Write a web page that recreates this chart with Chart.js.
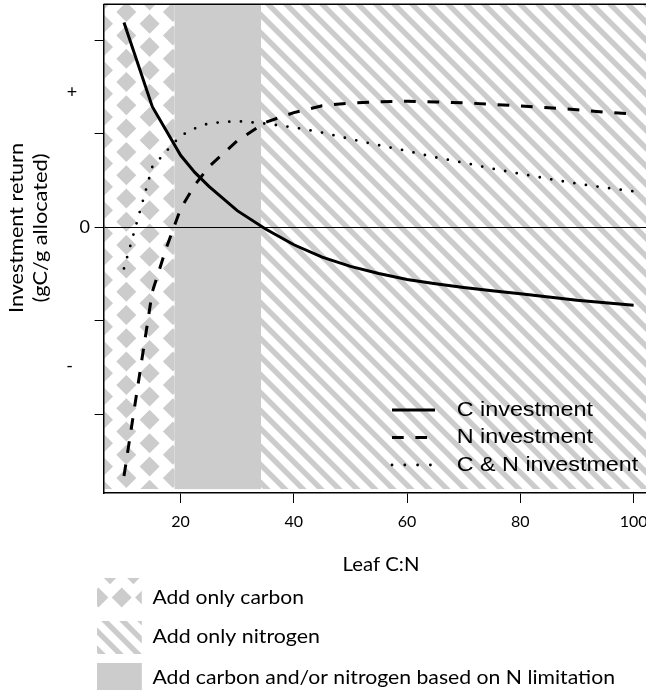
<!DOCTYPE html>
<html><head><meta charset="utf-8">
<script src="https://cdn.jsdelivr.net/npm/chart.js@4/dist/chart.umd.min.js"></script>
<style>
html,body{margin:0;padding:0;background:#fff;overflow:hidden;}
#wrap{position:relative;width:660px;height:690px;}
</style></head><body>
<div id="wrap"><canvas id="c" width="660" height="690"></canvas></div>
<script>
// ---- data ----
const leafCN = [10, 15, 17.5, 20, 22.5, 25, 30, 35, 40, 45, 50, 55, 60, 65, 70, 75, 80, 85, 90, 95, 100];
const cInvestment  = [2.19, 1.29, 1.03, 0.77, 0.587, 0.437, 0.178, -0.019, -0.187, -0.320, -0.418, -0.495, -0.559, -0.604, -0.644, -0.678, -0.710, -0.745, -0.781, -0.808, -0.834];
const nInvestment  = [-2.66, -0.69, -0.216, 0.198, 0.452, 0.648, 0.925, 1.123, 1.226, 1.30, 1.329, 1.342, 1.348, 1.340, 1.332, 1.314, 1.298, 1.278, 1.257, 1.23, 1.211];
const cnInvestment = [-0.44, 0.645, 0.814, 0.979, 1.057, 1.113, 1.136, 1.109, 1.068, 1.013, 0.944, 0.878, 0.816, 0.748, 0.690, 0.628, 0.572, 0.518, 0.467, 0.424, 0.384];
const seriesNames = ['C investment', 'N investment', 'C & N investment'];
const xTickValues = [20, 40, 60, 80, 100];
const yTickValues = [-2, -1, 0, 1, 2];
const ySignLabels = [{value: 1.45, text: '+'}, {value: -1.49, text: '-'}];
const xRange = [6.4, 103.6];
const yRange = [-2.842, 2.385];
// Leaf C:N boundaries of the three allocation zones
const carbonOnlyEnd = 18.94;   // below: add only carbon
const mixedEnd = 34.2;         // between: add C and/or N; above: add only nitrogen
const zoneBottom = -2.80;
const zoneNames = ['Add only carbon', 'Add only nitrogen', 'Add carbon and/or nitrogen based on N limitation'];
const xTitle = 'Leaf C:N';
const yTitle = ['Investment return', '(gC/g allocated)'];

const GRAY = '#cccccc';
const HUM = 'Lato, "Open Sans", sans-serif';
const HEL = '"Liberation Sans", Arial, sans-serif';

function diamond(ctx, cx, cy, h) {
  ctx.moveTo(cx - h, cy); ctx.lineTo(cx, cy - h); ctx.lineTo(cx + h, cy); ctx.lineTo(cx, cy + h); ctx.closePath();
}
// staggered diamond lattice; transposed=false: columns offset vertically, true: rows offset horizontally
function checker(ctx, x0, y0, x1, y1, ox, oy, transposed, h) {
  const P = 23.3;
  ctx.save(); ctx.beginPath(); ctx.rect(x0, y0, x1 - x0, y1 - y0); ctx.clip();
  ctx.fillStyle = GRAY; ctx.beginPath();
  const ni0 = Math.floor((x0 - ox) / P) - 2, ni1 = Math.ceil((x1 - ox) / P) + 2;
  const nj0 = Math.floor((y0 - oy) / P) - 2, nj1 = Math.ceil((y1 - oy) / P) + 2;
  for (let i = ni0; i <= ni1; i++) {
    for (let j = nj0; j <= nj1; j++) {
      let cx = ox + i * P, cy = oy + j * P;
      if (!transposed && (Math.abs(i) % 2)) cy += P / 2;
      if (transposed && (Math.abs(j) % 2)) cx += P / 2;
      diamond(ctx, cx, cy, h);
    }
  }
  ctx.fill(); ctx.restore();
}
function hatch(ctx, x0, y0, x1, y1, ox) {
  const S = 18;
  ctx.save(); ctx.beginPath(); ctx.rect(x0, y0, x1 - x0, y1 - y0); ctx.clip();
  ctx.strokeStyle = GRAY; ctx.lineWidth = 5.4; ctx.beginPath();
  const h = y1 - y0;
  for (let k = -Math.ceil(h / S) - 2; ox + k * S < x1 + 2; k++) {
    ctx.moveTo(ox + k * S, y0 - 5); ctx.lineTo(ox + k * S + h + 10, y1 + 5);
  }
  ctx.stroke(); ctx.restore();
}
function stretchText(ctx, text, x, y, font, width, align) {
  ctx.save(); ctx.font = font;
  const w = ctx.measureText(text).width, s = width ? width / w : 1;
  ctx.translate(x, y); ctx.scale(s, 1); ctx.textAlign = align || 'left';
  ctx.fillText(text, 0, 0); ctx.restore();
}

const zonesPlugin = {
  id: 'zones',
  beforeDraw(chart) {
    const {ctx, chartArea: a, scales: {x, y}} = chart;
    const top = a.top + 0.8, bot = y.getPixelForValue(zoneBottom);
    const xa = x.getPixelForValue(carbonOnlyEnd), xb = x.getPixelForValue(mixedEnd);
    ctx.save();
    ctx.fillStyle = '#fff'; ctx.fillRect(0, 0, chart.width, chart.height);
    checker(ctx, a.left + 0.8, top, xa, bot, 103, 0.45, false, 10);
    ctx.fillStyle = GRAY; ctx.fillRect(xa, top, xb - xa, bot - top);
    hatch(ctx, xb, top, a.right, bot, xb + 3);
    ctx.restore();
  },
  afterDraw(chart) {
    const {ctx, chartArea: a, scales: {y}} = chart;
    ctx.save();
    // top / right frame line
    ctx.strokeStyle = '#000'; ctx.lineWidth = 1.5;
    ctx.beginPath(); ctx.moveTo(a.left, a.top); ctx.lineTo(a.right, a.top); ctx.lineTo(a.right, a.bottom); ctx.stroke();
    // sign labels on the y axis
    ctx.fillStyle = '#000'; ctx.textBaseline = 'middle'; ctx.textAlign = 'center';
    ctx.font = '18px ' + HUM;
    ctx.fillText(ySignLabels[0].text, 72, y.getPixelForValue(ySignLabels[0].value));
    ctx.fillText(ySignLabels[1].text, 69.5, y.getPixelForValue(ySignLabels[1].value));
    ctx.textAlign = 'left';
    // in-plot legend
    const rows = [410, 437.5, 465];
    const styles = [[[], 'butt', 3], [[11.7, 11.7], 'butt', 3], [[0, 12.8], 'round', 2.8]];
    rows.forEach((ry, i) => {
      ctx.save(); ctx.strokeStyle = '#000'; ctx.lineWidth = styles[i][2];
      ctx.setLineDash(styles[i][0]); ctx.lineCap = styles[i][1];
      ctx.beginPath(); ctx.moveTo(392, ry); ctx.lineTo(i === 2 ? 432 : 435, ry); ctx.stroke(); ctx.restore();
    });
    ctx.font = '20px ' + HEL;
    const s = 181.6 / ctx.measureText(seriesNames[2]).width;
    seriesNames.forEach((t, i) => {
      ctx.save(); ctx.translate(456.7, rows[i]); ctx.scale(s, 1); ctx.fillText(t, 0, 0); ctx.restore();
    });
    // axis titles
    stretchText(ctx, xTitle, 381, 565, '19px ' + HUM, 77, 'center');
    ctx.textBaseline = 'alphabetic';
    ctx.save(); ctx.translate(23.3, 228); ctx.rotate(-Math.PI / 2);
    stretchText(ctx, yTitle[0], 0, 0, '18.5px ' + HUM, 170, 'center');
    ctx.restore();
    ctx.save(); ctx.translate(47.3, 228); ctx.rotate(-Math.PI / 2);
    stretchText(ctx, yTitle[1], 0, 0, '18.5px ' + HUM, 149, 'center');
    ctx.restore();
    ctx.textBaseline = 'middle';
    // zone legend
    const sw = [[97, 578, 141.8, 610], [97, 621, 141.8, 654], [97, 663, 141.8, 696]];
    checker(ctx, sw[0][0], sw[0][1], sw[0][2], sw[0][3], 121.7, 597.5, true, 10);
    hatch(ctx, sw[1][0], sw[1][1], sw[1][2], sw[1][3], 100);
    ctx.fillStyle = GRAY; ctx.fillRect(sw[2][0], sw[2][1], sw[2][2] - sw[2][0], sw[2][3] - sw[2][1]);
    ctx.fillStyle = '#000';
    const ty = [597.5, 637, 678], tw = [151.5, 167.5, 462.5];
    zoneNames.forEach((t, i) => stretchText(ctx, t, 152.5, ty[i], '20px ' + HUM, tw[i], 'left'));
    ctx.restore();
  }
};

const pts = arr => leafCN.map((v, i) => ({x: v, y: arr[i]}));
new Chart(document.getElementById('c'), {
  type: 'line',
  data: {datasets: [
    {label: seriesNames[0], data: pts(cInvestment), borderColor: '#000', borderWidth: 3, pointRadius: 0, tension: 0, fill: false},
    {label: seriesNames[1], data: pts(nInvestment), borderColor: '#000', borderWidth: 3, borderDash: [11.7, 11.7], pointRadius: 0, tension: 0, fill: false},
    {label: seriesNames[2], data: pts(cnInvestment), borderColor: '#000', borderWidth: 2.8, borderDash: [0, 11.7], borderCapStyle: 'round', pointRadius: 0, tension: 0, fill: false}
  ]},
  options: {
    responsive: false, animation: false, devicePixelRatio: 1,
    layout: {padding: {left: 0, top: 4.3, right: 6, bottom: 0}},
    plugins: {legend: {display: false}, tooltip: {enabled: false}},
    scales: {
      x: {
        type: 'linear', min: xRange[0], max: xRange[1],
        afterBuildTicks: s => { s.ticks = xTickValues.map(v => ({value: v})); },
        afterFit: s => { s.height = 197; s.paddingLeft = 0; s.paddingRight = 0; },
        grid: {drawOnChartArea: false, tickLength: 10, color: '#000', tickWidth: 1},
        border: {display: true, color: '#000', width: 1.5},
        ticks: {color: '#000', font: {family: HUM, size: 16}, padding: 9, maxRotation: 0, autoSkip: false}
      },
      y: {
        type: 'linear', min: yRange[0], max: yRange[1],
        afterBuildTicks: s => { s.ticks = yTickValues.map(v => ({value: v})); },
        afterFit: s => { s.width = 103.6; s.paddingTop = 0; s.paddingBottom = 0; },
        grid: {
          color: c => (c.tick && c.tick.value === 0) ? '#000' : 'rgba(0,0,0,0)',
          tickColor: '#000',
          tickLength: 9, lineWidth: 1
        },
        border: {display: true, color: '#000', width: 1.5},
        ticks: {color: '#000', font: {family: HUM, size: 18}, padding: 4.6, autoSkip: false,
          callback: v => (v === 0 ? '0' : '')}
      }
    }
  },
  plugins: [zonesPlugin]
});
</script>
</body></html>
